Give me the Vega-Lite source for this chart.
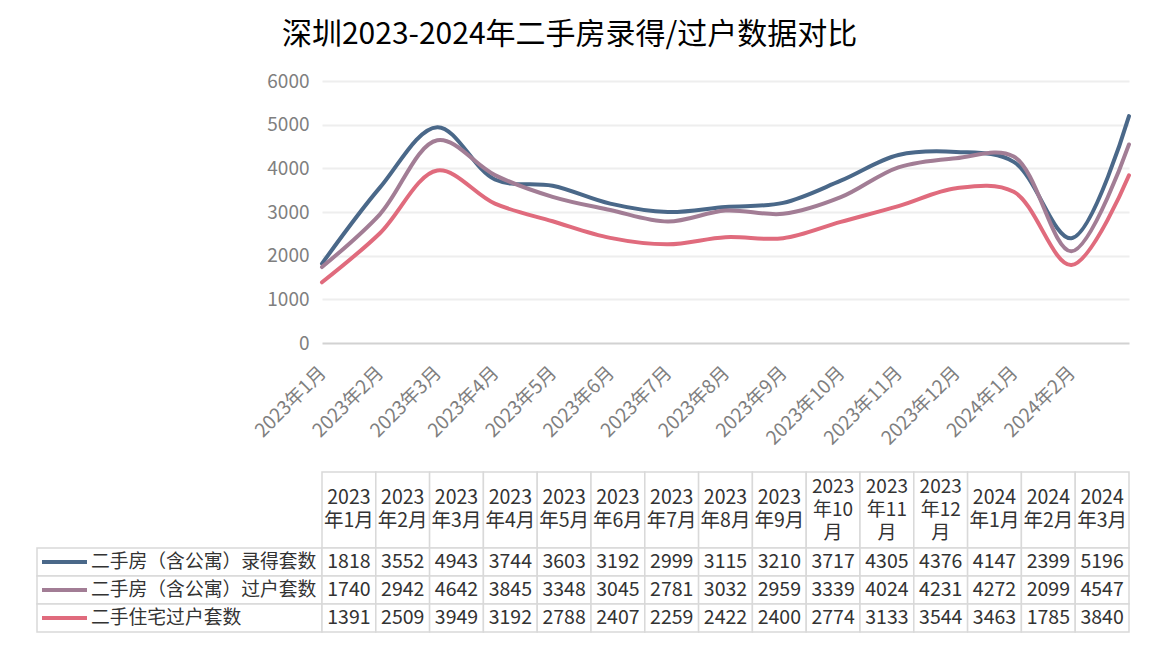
{
  "$schema": "https://vega.github.io/schema/vega-lite/v6.json",
  "padding": {"left": 36, "top": 20, "right": 25, "bottom": 27},
  "background": "white",
  "title": {"text": "深圳2023-2024年二手房录得/过户数据对比", "fontSize": 30, "font": "Noto Sans CJK SC", "fontWeight": "normal", "color": "#000000", "anchor": "middle", "offset": 22, "dx": -17},
  "config": {"view": {"stroke": null}, "font": "Noto Sans CJK SC"},
  "datasets": {
    "d": [
      {"month": "2023年1月", "series": "二手房（含公寓）录得套数", "value": 1818},
      {"month": "2023年2月", "series": "二手房（含公寓）录得套数", "value": 3552},
      {"month": "2023年3月", "series": "二手房（含公寓）录得套数", "value": 4943},
      {"month": "2023年4月", "series": "二手房（含公寓）录得套数", "value": 3744},
      {"month": "2023年5月", "series": "二手房（含公寓）录得套数", "value": 3603},
      {"month": "2023年6月", "series": "二手房（含公寓）录得套数", "value": 3192},
      {"month": "2023年7月", "series": "二手房（含公寓）录得套数", "value": 2999},
      {"month": "2023年8月", "series": "二手房（含公寓）录得套数", "value": 3115},
      {"month": "2023年9月", "series": "二手房（含公寓）录得套数", "value": 3210},
      {"month": "2023年10月", "series": "二手房（含公寓）录得套数", "value": 3717},
      {"month": "2023年11月", "series": "二手房（含公寓）录得套数", "value": 4305},
      {"month": "2023年12月", "series": "二手房（含公寓）录得套数", "value": 4376},
      {"month": "2024年1月", "series": "二手房（含公寓）录得套数", "value": 4147},
      {"month": "2024年2月", "series": "二手房（含公寓）录得套数", "value": 2399},
      {"month": "2024年3月", "series": "二手房（含公寓）录得套数", "value": 5196},
      {"month": "2023年1月", "series": "二手房（含公寓）过户套数", "value": 1740},
      {"month": "2023年2月", "series": "二手房（含公寓）过户套数", "value": 2942},
      {"month": "2023年3月", "series": "二手房（含公寓）过户套数", "value": 4642},
      {"month": "2023年4月", "series": "二手房（含公寓）过户套数", "value": 3845},
      {"month": "2023年5月", "series": "二手房（含公寓）过户套数", "value": 3348},
      {"month": "2023年6月", "series": "二手房（含公寓）过户套数", "value": 3045},
      {"month": "2023年7月", "series": "二手房（含公寓）过户套数", "value": 2781},
      {"month": "2023年8月", "series": "二手房（含公寓）过户套数", "value": 3032},
      {"month": "2023年9月", "series": "二手房（含公寓）过户套数", "value": 2959},
      {"month": "2023年10月", "series": "二手房（含公寓）过户套数", "value": 3339},
      {"month": "2023年11月", "series": "二手房（含公寓）过户套数", "value": 4024},
      {"month": "2023年12月", "series": "二手房（含公寓）过户套数", "value": 4231},
      {"month": "2024年1月", "series": "二手房（含公寓）过户套数", "value": 4272},
      {"month": "2024年2月", "series": "二手房（含公寓）过户套数", "value": 2099},
      {"month": "2024年3月", "series": "二手房（含公寓）过户套数", "value": 4547},
      {"month": "2023年1月", "series": "二手住宅过户套数", "value": 1391},
      {"month": "2023年2月", "series": "二手住宅过户套数", "value": 2509},
      {"month": "2023年3月", "series": "二手住宅过户套数", "value": 3949},
      {"month": "2023年4月", "series": "二手住宅过户套数", "value": 3192},
      {"month": "2023年5月", "series": "二手住宅过户套数", "value": 2788},
      {"month": "2023年6月", "series": "二手住宅过户套数", "value": 2407},
      {"month": "2023年7月", "series": "二手住宅过户套数", "value": 2259},
      {"month": "2023年8月", "series": "二手住宅过户套数", "value": 2422},
      {"month": "2023年9月", "series": "二手住宅过户套数", "value": 2400},
      {"month": "2023年10月", "series": "二手住宅过户套数", "value": 2774},
      {"month": "2023年11月", "series": "二手住宅过户套数", "value": 3133},
      {"month": "2023年12月", "series": "二手住宅过户套数", "value": 3544},
      {"month": "2024年1月", "series": "二手住宅过户套数", "value": 3463},
      {"month": "2024年2月", "series": "二手住宅过户套数", "value": 1785},
      {"month": "2024年3月", "series": "二手住宅过户套数", "value": 3840}
    ]
  },
  "columns": 2,
  "spacing": 0,
  "bounds": "flush",
  "resolve": {"scale": {"x": "independent", "y": "independent", "color": "shared"}},
  "concat": [
    {"width": 285, "height": 391, "data": {"values": []}, "mark": "point"},
    {
      "width": 807, "height": 262,
      "data": {"name": "d"},
      "mark": {"type": "line", "interpolate": "catmull-rom", "strokeWidth": 4, "strokeCap": "round"},
      "encoding": {
        "x": {"field": "month", "type": "ordinal", "sort": null, "scale": {"type": "point", "padding": 0},
          "axis": {"title": null, "labelAngle": -45, "labelFontSize": 19, "labelColor": "#7f7f7f", "domain": false, "ticks": false, "labelPadding": 20, "labelOffset": -6, "labelOverlap": false,
            "labelExpr": "datum.label == '2024年3月' ? '' : datum.label"}},
        "y": {"field": "value", "type": "quantitative", "scale": {"domain": [0, 6000], "nice": false},
          "axis": {"title": null, "values": [0, 1000, 2000, 3000, 4000, 5000, 6000], "format": "d", "domain": false, "ticks": false, "labelFontSize": 19, "labelColor": "#7f7f7f", "labelPadding": 13,
            "gridWidth": 2, "gridColor": {"condition": {"test": "datum.value === 0", "value": "#d2d2d2"}, "value": "#eeeeee"}}},
        "color": {"field": "series", "type": "nominal", "sort": null,
          "scale": {"domain": ["二手房（含公寓）录得套数", "二手房（含公寓）过户套数", "二手住宅过户套数"], "range": ["#4a6889", "#a27d95", "#e06b7d"]},
          "legend": {"orient": "none", "legendX": 3, "legendY": 467, "title": null, "symbolType": "stroke", "symbolSize": 2025, "symbolStrokeWidth": 4,
            "clipHeight": 28, "rowPadding": 0, "labelFontSize": 18.8, "labelColor": "#333333", "labelOffset": 2, "labelLimit": 400, "padding": 0, "direction": "vertical"}}
      }
    },
    {"width": 285, "height": 76, "data": {"values": []}, "mark": "point"},
    {
      "width": 807, "height": 76,
      "data": {"name": "d"},
      "transform": [
        {"filter": "datum.series === '二手房（含公寓）录得套数'"},
        {"calculate": "length(datum.month) > 7 ? substring(datum.month, 0, 4) + '\\n' + substring(datum.month, 4, 7) + '\\n' + substring(datum.month, 7) : substring(datum.month, 0, 4) + '\\n' + substring(datum.month, 4)", "as": "hdr"}
      ],
      "encoding": {"x": {"field": "month", "type": "ordinal", "sort": null, "scale": {"type": "band", "paddingInner": 0, "paddingOuter": 0}, "axis": null}},
      "layer": [
        {"mark": {"type": "rect", "fill": "white", "stroke": "#d9d9d9", "strokeWidth": 1.5}},
        {"transform": [{"filter": "length(datum.month) <= 7"}],
         "mark": {"type": "text", "lineBreak": "\n", "fontSize": 19.5, "color": "#333333", "lineHeight": 23, "dy": -12}, "encoding": {"text": {"field": "hdr", "type": "nominal"}}},
        {"transform": [{"filter": "length(datum.month) > 7"}],
         "mark": {"type": "text", "lineBreak": "\n", "fontSize": 19, "color": "#333333", "lineHeight": 23, "dy": -23}, "encoding": {"text": {"field": "hdr", "type": "nominal"}}}
      ]
    },
    {
      "width": 285, "height": 84,
      "data": {"name": "d"},
      "transform": [{"filter": "datum.month === '2023年1月'"}],
      "mark": {"type": "rect", "fill": "white", "stroke": "#d9d9d9", "strokeWidth": 1.5},
      "encoding": {"y": {"field": "series", "type": "nominal", "sort": null, "scale": {"type": "band", "paddingInner": 0, "paddingOuter": 0}, "axis": null}}
    },
    {
      "width": 807, "height": 84,
      "data": {"name": "d"},
      "encoding": {
        "x": {"field": "month", "type": "ordinal", "sort": null, "scale": {"type": "band", "paddingInner": 0, "paddingOuter": 0}, "axis": null},
        "y": {"field": "series", "type": "nominal", "sort": null, "scale": {"type": "band", "paddingInner": 0, "paddingOuter": 0}, "axis": null}
      },
      "layer": [
        {"mark": {"type": "rect", "fill": "white", "stroke": "#d9d9d9", "strokeWidth": 1.5}},
        {"mark": {"type": "text", "fontSize": 19.5, "color": "#333333"}, "encoding": {"text": {"field": "value", "type": "quantitative", "format": "d"}}}
      ]
    }
  ]
}
